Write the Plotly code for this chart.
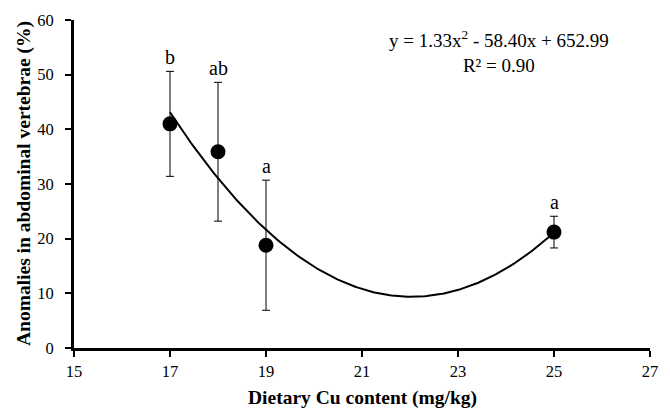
import numpy as np
import plotly.graph_objects as go

cu = [17, 18, 19, 25]
anomalies = [41.0, 35.9, 18.8, 21.2]
err = [9.6, 12.7, 11.9, 2.9]
letters = ["b", "ab", "a", "a"]
x_ticks = [15, 17, 19, 21, 23, 25, 27]
y_ticks = [0, 10, 20, 30, 40, 50, 60]

coef = np.polyfit(cu, anomalies, 2)
xf = np.linspace(min(cu), max(cu), 200)
yf = np.polyval(coef, xf)

FONT = "Liberation Serif, Times New Roman, serif"

fig = go.Figure()
fig.add_trace(go.Scatter(x=xf, y=yf, mode="lines",
                         line=dict(color="black", width=2), hoverinfo="skip"))
fig.add_trace(go.Scatter(x=cu, y=anomalies, mode="markers",
                         marker=dict(color="black", size=15),
                         error_y=dict(type="data", array=err, visible=True,
                                      color="black", thickness=1, width=4)))

for xi, yi, ei, t in zip(cu, anomalies, err, letters):
    fig.add_annotation(x=xi, y=yi + ei, text=t, showarrow=False,
                       yanchor="bottom", yshift=1,
                       font=dict(family=FONT, size=20, color="black"))

fig.add_annotation(x=0.738, y=0.903, xref="paper", yref="paper",
                   text="y = 1.33x<sup>2</sup> - 58.40x + 652.99<br>R² = 0.90",
                   showarrow=False, align="center", xanchor="center", yanchor="middle",
                   font=dict(family=FONT, size=19, color="black"))

# axis titles
fig.add_annotation(x=0.5, y=0, xref="paper", yref="paper", yshift=-50,
                   text="<b>Dietary Cu content (mg/kg)</b>", showarrow=False,
                   xanchor="center", yanchor="middle",
                   font=dict(family=FONT, size=19.5, color="black"))
fig.add_annotation(x=0, y=0.5, xref="paper", yref="paper", xshift=-50,
                   text="<b>Anomalies in abdominal vertebrae (%)</b>", showarrow=False,
                   textangle=-90, xanchor="center", yanchor="middle",
                   font=dict(family=FONT, size=19.5, color="black"))

# page body has an 8px default margin; figure sized to fit the 670x408 window
fig.update_layout(
    width=662, height=400,
    margin=dict(l=66, r=20, t=12, b=60),
    paper_bgcolor="white", plot_bgcolor="white",
    showlegend=False,
    font=dict(family=FONT, size=16.5, color="black"),
    xaxis=dict(range=[15, 27], tickvals=x_ticks, showgrid=False, zeroline=False,
               showline=True, linecolor="black", linewidth=3, automargin=False,
               ticks="outside", ticklen=6, tickwidth=2, tickcolor="black",
               ticklabelstandoff=0,
               tickfont=dict(family=FONT, size=16.5)),
    yaxis=dict(range=[0, 60], tickvals=y_ticks, showgrid=False, zeroline=False,
               showline=True, linecolor="black", linewidth=3, automargin=False,
               ticks="outside", ticklen=6, tickwidth=2, tickcolor="black",
               ticklabelstandoff=8,
               tickfont=dict(family=FONT, size=16.5)),
)

fig.write_html("out.html")
